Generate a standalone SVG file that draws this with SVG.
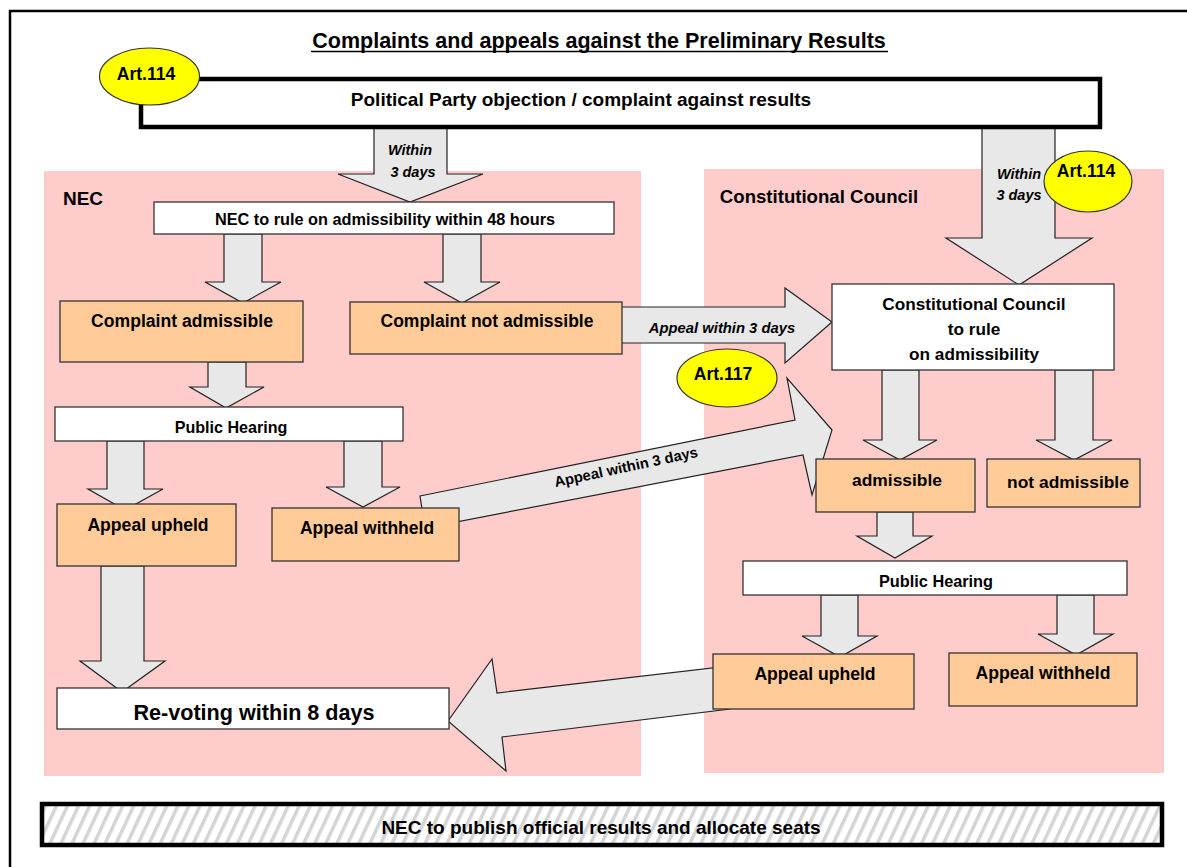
<svg xmlns="http://www.w3.org/2000/svg" width="1187" height="867" viewBox="0 0 1187 867">
<defs>
<pattern id="hatch" patternUnits="userSpaceOnUse" width="10" height="10" patternTransform="rotate(25)">
<rect width="10" height="10" fill="#ffffff"/>
<rect x="0" y="0" width="3.5" height="10" fill="#d4d4d4"/>
</pattern>
</defs>
<style>
text{font-family:"Liberation Sans",Arial,sans-serif;font-weight:bold;fill:#000;text-anchor:middle}
.it{font-style:italic}
.region{fill:#ffcccc;stroke:none}
.arrow{fill:#e8e8e8;stroke:#222;stroke-width:1.2;stroke-linejoin:miter}
.box{fill:#ffffff;stroke:#333;stroke-width:1.3}
.obox{fill:#ffcc99;stroke:#333;stroke-width:1.3}
.thick{fill:#ffffff;stroke:#000;stroke-width:4.5}
.art{fill:#ffff00;stroke:#333;stroke-width:1.2}
</style>
<rect width="1187" height="867" fill="#ffffff"/>
<rect x="10" y="11" width="1195" height="880" fill="none" stroke="#000" stroke-width="2.5"/>

<g id="title">
<text x="599" y="48" style="font-size:21.5px">Complaints and appeals against the Preliminary Results</text>
<line x1="311" y1="51.5" x2="888" y2="51.5" stroke="#000" stroke-width="1.6"/>
</g>

<g id="region-nec">
<rect class="region" x="44" y="171" width="597" height="605"/>
<text x="83" y="205" style="font-size:19px">NEC</text>
</g>
<g id="region-cc">
<rect class="region" x="704" y="169" width="460" height="604"/>
<text x="819" y="203" style="font-size:18.6px">Constitutional Council</text>
</g>

<g id="connectors">
<polygon class="arrow" points="374,125 447,125 447,174 483,174 410,202 338,174 374,174"/>
<polygon class="arrow" points="982,125 1055,125 1055,238 1092,238 1019,285 946,238 982,238"/>
<polygon class="arrow" points="224,234 262,234 262,282 281,282 243,303 205,282 224,282"/>
<polygon class="arrow" points="443,234 481,234 481,282 500,282 462,303 424,282 443,282"/>
<polygon class="arrow" points="208,362 246,362 246,387 264,387 226,408 190,387 208,387"/>
<polygon class="arrow" points="107,441 144,441 144,489 163,489 125,510 88,489 107,489"/>
<polygon class="arrow" points="344,441 382,441 382,487 400,487 363,507 326,487 344,487"/>
<polygon class="arrow" points="101,566 144,566 144,661 165,661 122,692 80,661 101,661"/>
<polygon class="arrow" points="600,307 785,307 785,288 832,322 785,363 785,343 600,343"/>
<polygon class="arrow" points="420,496 795,420 787,378 832,430 812,495 803,455 425,528"/>
<polygon class="arrow" points="882,370 919,370 919,440 937,440 900,460 863,440 882,440"/>
<polygon class="arrow" points="1055,370 1093,370 1093,440 1112,440 1074,460 1036,440 1055,440"/>
<polygon class="arrow" points="877,512 913,512 913,536 932,536 895,558 857,536 877,536"/>
<polygon class="arrow" points="821,595 858,595 858,636 877,636 840,657 802,636 821,636"/>
<polygon class="arrow" points="1057,595 1094,595 1094,634 1113,634 1076,655 1038,634 1057,634"/>
<polygon class="arrow" points="448,721 492,659 497,693 730,666 730,709 502,737 506,771"/>
<text class="it" x="410" y="155" style="font-size:14.5px">Within</text>
<text class="it" x="413" y="177" style="font-size:14.5px">3 days</text>
<text class="it" x="1019" y="179" style="font-size:14.5px">Within</text>
<text class="it" x="1019" y="200" style="font-size:14.5px">3 days</text>
<text class="it" x="722" y="333" style="font-size:14.8px">Appeal within 3 days</text>
<text x="626" y="472" transform="rotate(-12 626 467)" style="font-size:14.8px">Appeal within 3 days</text>
</g>

<g id="objection">
<rect class="thick" x="141" y="79" width="959" height="48"/>
<text x="581" y="106" style="font-size:19px">Political Party objection / complaint against results</text>
</g>
<g id="art114-left">
<ellipse class="art" cx="149.5" cy="76.5" rx="50" ry="28.5"/>
<text x="146" y="80" style="font-size:17.5px">Art.114</text>
</g>

<g id="nec-rule">
<rect class="box" x="154" y="202" width="460" height="32"/>
<text x="385" y="225" style="font-size:16.3px">NEC to rule on admissibility within 48 hours</text>
</g>
<g id="complaint-admissible">
<rect class="obox" x="60" y="301" width="243" height="61"/>
<text x="182" y="327" style="font-size:17.6px">Complaint admissible</text>
</g>
<g id="complaint-not-admissible">
<rect class="obox" x="350" y="302" width="272" height="52"/>
<text x="487" y="327" style="font-size:17.5px">Complaint not admissible</text>
</g>
<g id="nec-public-hearing">
<rect class="box" x="55" y="407" width="348" height="34"/>
<text x="231" y="433" style="font-size:16.1px">Public Hearing</text>
</g>
<g id="nec-appeal-upheld">
<rect class="obox" x="57" y="504" width="179" height="62"/>
<text x="148" y="531" style="font-size:17.6px">Appeal upheld</text>
</g>
<g id="nec-appeal-withheld">
<rect class="obox" x="272" y="508" width="187" height="53"/>
<text x="367" y="534" style="font-size:17.5px">Appeal withheld</text>
</g>
<g id="revoting">
<rect class="box" x="57" y="688" width="392" height="41"/>
<text x="254" y="720" style="font-size:21.6px">Re-voting within 8 days</text>
</g>

<g id="art117">
<ellipse class="art" cx="727" cy="378" rx="50" ry="29"/>
<text x="723" y="380" style="font-size:17.5px">Art.117</text>
</g>
<g id="art114-right">
<ellipse class="art" cx="1088" cy="181.5" rx="44" ry="30.5"/>
<text x="1086" y="177" style="font-size:17.5px">Art.114</text>
</g>

<g id="cc-rule">
<rect class="box" x="832" y="284" width="282" height="86"/>
<text x="974" y="310" style="font-size:17.2px">Constitutional Council</text>
<text x="974" y="335" style="font-size:17.2px">to rule</text>
<text x="974" y="360" style="font-size:17.2px">on admissibility</text>
</g>
<g id="cc-admissible">
<rect class="obox" x="816" y="459" width="159" height="53"/>
<text x="897" y="486" style="font-size:17.4px">admissible</text>
</g>
<g id="cc-not-admissible">
<rect class="obox" x="987" y="459" width="153" height="48"/>
<text x="1068" y="488" style="font-size:17.4px">not admissible</text>
</g>
<g id="cc-public-hearing">
<rect class="box" x="743" y="561" width="384" height="34"/>
<text x="936" y="587" style="font-size:16.3px">Public Hearing</text>
</g>
<g id="cc-appeal-upheld">
<rect class="obox" x="713" y="654" width="201" height="55"/>
<text x="815" y="680" style="font-size:17.6px">Appeal upheld</text>
</g>
<g id="cc-appeal-withheld">
<rect class="obox" x="949" y="653" width="188" height="53"/>
<text x="1043" y="679" style="font-size:17.6px">Appeal withheld</text>
</g>

<g id="publish">
<rect x="42" y="804" width="1120" height="41" fill="url(#hatch)" stroke="#000" stroke-width="4.5"/>
<text x="601" y="834" style="font-size:19px">NEC to publish official results and allocate seats</text>
</g>
</svg>
